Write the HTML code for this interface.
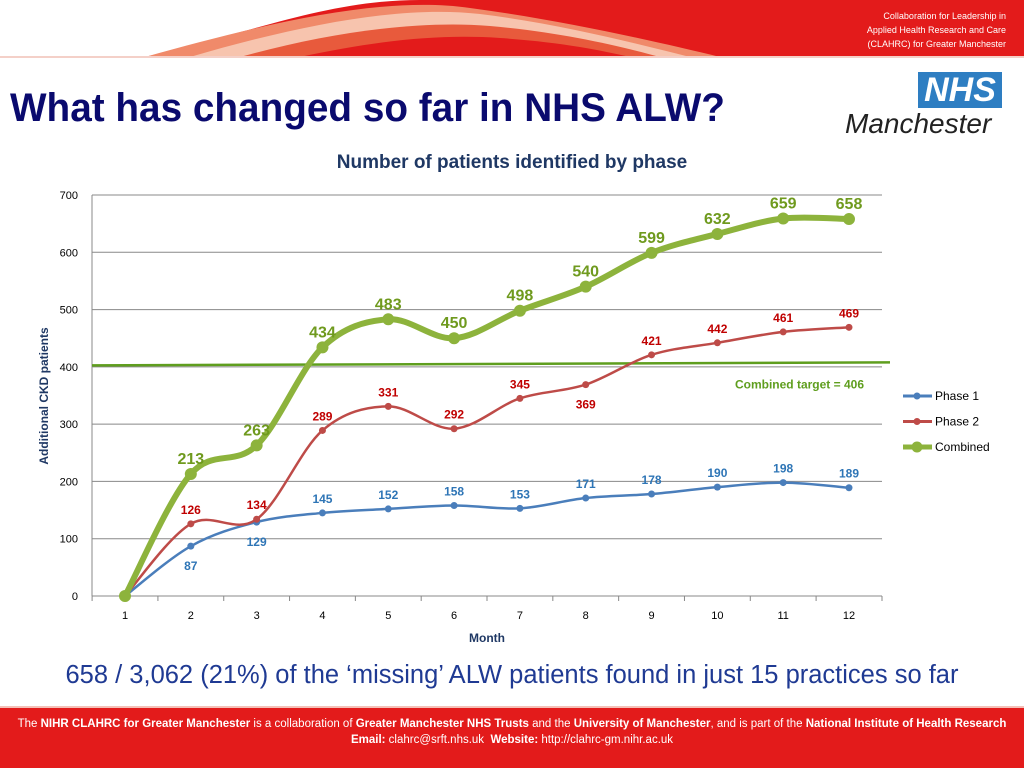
<!DOCTYPE html>
<html><head><meta charset="utf-8"><style>
body{margin:0;width:1024px;height:768px;overflow:hidden;background:#fff;font-family:"Liberation Sans",sans-serif;position:relative}
.abs{position:absolute}
</style></head><body>
<svg class="abs" style="left:0;top:0" width="1024" height="60">
<rect x="0" y="0" width="1024" height="57" fill="#fff"/>
<path d="M145,57 C260,30 330,0 420,0 L1024,0 L1024,57 Z" fill="#e31b1b"/>
<path d="M145,57 C260,25 380,-5 470,8 C560,20 650,40 720,57 Z" fill="#f08a6a"/>
<path d="M190,57 C300,25 400,5 480,14 C560,24 630,42 690,57 Z" fill="#f7c4ae"/>
<path d="M240,57 C330,32 420,20 490,26 C560,32 620,46 660,57 Z" fill="#e85a3c"/>
<path d="M300,57 C380,40 440,34 500,38 C560,42 600,50 630,57 Z" fill="#e31b1b"/>
<rect x="0" y="56" width="1024" height="2" fill="#f4d0c8"/>
<text x="1006" y="19" font-size="9" fill="#fff" text-anchor="end">Collaboration for Leadership in</text>
<text x="1006" y="33" font-size="9" fill="#fff" text-anchor="end">Applied Health Research and Care</text>
<text x="1006" y="47" font-size="9" fill="#fff" text-anchor="end">(CLAHRC) for Greater Manchester</text>
</svg>
<div class="abs" style="left:10px;top:86px;font-size:40px;font-weight:bold;color:#0a0a6e;transform:scaleX(0.968);transform-origin:0 0;white-space:nowrap">What has changed so far in NHS ALW?</div>
<div class="abs" style="left:918px;top:72px;width:84px;height:36px;background:#2e7ec2;color:#fff;font-weight:bold;font-style:italic;font-size:34px;line-height:36px;text-align:center">NHS</div>
<div class="abs" style="left:845px;top:108px;font-size:28px;font-style:italic;color:#222">Manchester</div>
<div class="abs" style="left:0;width:1024px;top:152px;text-align:center;font-size:19px;font-weight:bold;color:#1f3864">Number of patients identified by phase</div>
<svg id="chart" class="abs" style="left:0;top:180px" width="1024" height="480"></svg>
<div class="abs" style="left:0;width:1024px;top:661px;text-align:center;font-size:25.5px;color:#1f3a93;white-space:nowrap">658 / 3,062 (21%) of the ‘missing’ ALW patients found in just 15 practices so far</div>
<div class="abs" style="left:0;top:706px;width:1024px;height:62px;background:#e31b1b;border-top:2px solid #f4c0b8;color:#fff;font-size:11.5px;text-align:center;line-height:16px;padding-top:8px;box-sizing:border-box">
The <b>NIHR CLAHRC for Greater Manchester</b> is a collaboration of <b>Greater Manchester NHS Trusts</b> and the <b>University of Manchester</b>, and is part of the <b>National Institute of Health Research</b><br><b>Email:</b> clahrc@srft.nhs.uk &nbsp;<b>Website:</b> http://clahrc-gm.nihr.ac.uk</div>
<script>
const months=[1,2,3,4,5,6,7,8,9,10,11,12];
const phase1=[0,87,129,145,152,158,153,171,178,190,198,189];
const phase2=[0,126,134,289,331,292,345,369,421,442,461,469];
const combined=[0,213,263,434,483,450,498,540,599,632,659,658];
const yTicks=[0,100,200,300,400,500,600,700];
const target=406;
const p1Below=[0,1,1,0,0,0,0,0,0,0,0,0];
const p2Below=[0,0,0,0,0,0,0,1,0,0,0,0];
const svg=document.getElementById('chart');
const NS='http://www.w3.org/2000/svg';
const X0=92,X1=882,oy=180;
const x=m=>125+(m-1)*(849-125)/11;
const y=v=>596-oy-v*(401/700);
function el(t,a,p){const e=document.createElementNS(NS,t);for(const k in a)e.setAttribute(k,a[k]);(p||svg).appendChild(e);return e;}
yTicks.forEach(t=>{
 const g=el('line',{x1:X0,x2:X1,y1:y(t),y2:y(t),stroke:'#888','stroke-width':1});
 
 
 const l=el('text',{x:78,y:y(t)+4,'font-size':11,'text-anchor':'end',fill:'#000'});l.textContent=t;
 
 
});
el('line',{x1:X0,x2:X0,y1:y(700),y2:y(0),stroke:'#888'});
months.forEach(m=>{
 el('line',{x1:x(m)-32.9,x2:x(m)-32.9,y1:y(0),y2:y(0)+5,stroke:'#888'});
 const l=el('text',{x:x(m),y:y(0)+23,'font-size':11,'text-anchor':'middle'});l.textContent=m;
 
 
});
el('line',{x1:X1,x2:X1,y1:y(0),y2:y(0)+5,stroke:'#888'});
let t=el('text',{x:487,y:462,'font-size':12,'font-weight':'bold','text-anchor':'middle',fill:'#1f3864'});t.textContent='Month';

t=el('text',{x:0,y:0,'font-size':12,'font-weight':'bold','text-anchor':'middle',fill:'#1f3864',transform:'translate(48,216) rotate(-90)'});t.textContent='Additional CKD patients';

const tl=el('line',{x1:X0,x2:890,y1:y(target)+2,y2:y(target)-1,stroke:'#5f9e1e','stroke-width':2.5});

t=el('text',{x:864,y:y(target)+25,'font-size':12,'font-weight':'bold','text-anchor':'end',fill:'#5f9e1e'});t.textContent='Combined target = '+target;

function path(vals){
 const p=vals.map((v,i)=>[x(months[i]),y(v)]);let d='M'+p[0];
 for(let i=0;i<p.length-1;i++){const a=p[i-1]||p[i],b=p[i],c=p[i+1],e=p[i+2]||c;
  d+=` C${b[0]+(c[0]-a[0])/6},${b[1]+(c[1]-a[1])/6} ${c[0]-(e[0]-b[0])/6},${c[1]-(e[1]-b[1])/6} ${c[0]},${c[1]}`;}
 return d;}
function series(vals,col,w,r,name,fs,below,lcol){
 const pl=el('path',{d:path(vals),fill:'none',stroke:col,'stroke-width':w});
 
 
 vals.forEach((v,i)=>{
  const c=el('circle',{cx:x(months[i]),cy:y(v),r:r,fill:col});
  
  
  if(i===0)return;
  const lb=el('text',{x:x(months[i]),y:below&&below[i]?y(v)+fs+12:y(v)-10,'font-size':fs,'font-weight':'bold','text-anchor':'middle',fill:lcol});
  lb.textContent=v;
  
  
 });}
series(phase1,'#4a7ebb',2.5,3.5,'phase1',12,p1Below,'#2e75b6');
series(phase2,'#be4b48',2.5,3.5,'phase2',12,p2Below,'#c00000');
series(combined,'#8db33c',6,6,'combined',16,null,'#6f9a1e');
const leg=[['Phase 1','#4a7ebb',3],['Phase 2','#be4b48',3],['Combined','#8db33c',5]];
leg.forEach((L,i)=>{const yy=216+i*25.5;
 const ln=el('line',{x1:903,x2:932,y1:yy,y2:yy,stroke:L[1],'stroke-width':L[2]});
 
 el('circle',{cx:917,cy:yy,r:L[2]+0.5,fill:L[1]});
 const lt=el('text',{x:935,y:yy+4,'font-size':12});lt.textContent=L[0];
 
});
</script>
</body></html>
